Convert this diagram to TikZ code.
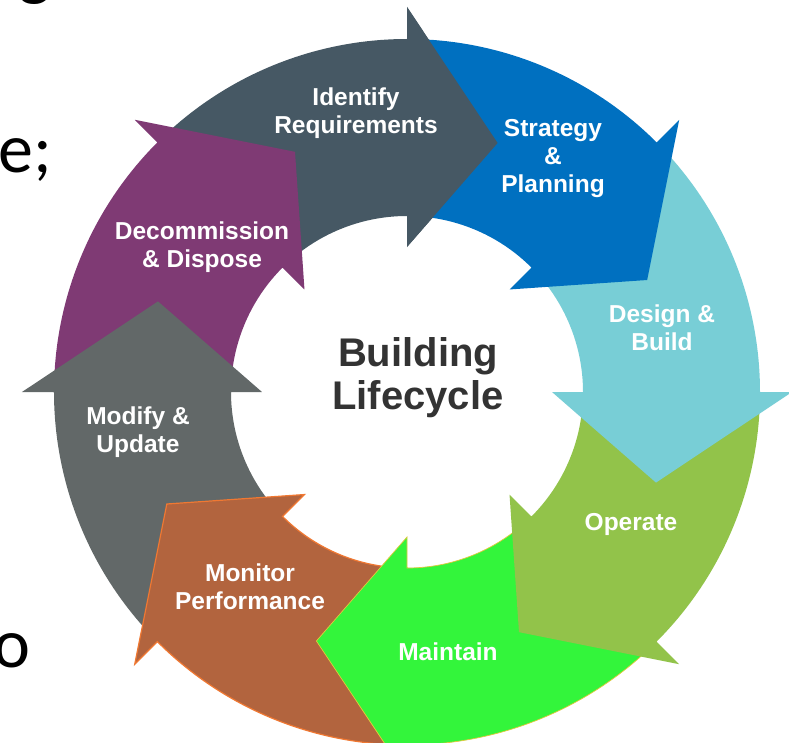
\documentclass[tikz,border=0pt]{standalone}
\usepackage{fontspec}
\setmainfont{Liberation Sans}
\newfontfamily\slidefont{Carlito}
\usetikzlibrary{calc}

% ring geometry (pt): inner/outer radius of the band, barb radii, tip radius
\def\rin{176}
\def\rout{353}
\def\rbin{145}
\def\rbout{385}
\def\rtip{265}
\def\tipang{20}

\definecolor{cIdentify}{RGB}{70,88,100}
\definecolor{cStrategy}{RGB}{0,112,192}
\definecolor{cDesign}{RGB}{120,206,214}
\definecolor{cOperate}{RGB}{146,195,74}
\definecolor{cMaintain}{RGB}{51,245,59}
\definecolor{cMaintainEdge}{RGB}{226,200,60}
\definecolor{cMonitor}{RGB}{178,100,62}
\definecolor{cMonitorEdge}{RGB}{240,120,50}
\definecolor{cModify}{RGB}{98,104,104}
\definecolor{cDecom}{RGB}{127,58,116}
\definecolor{cTitle}{RGB}{51,51,51}

\tikzset{
  seglabel/.style={text=white, font=\fontsize{24.5}{28}\selectfont\bfseries, align=center, inner sep=0pt},
  titlelabel/.style={text=cTitle, font=\fontsize{40}{43}\selectfont\bfseries, align=center, inner sep=0pt},
  slidetext/.style={text=black, font=\fontsize{70}{80}\selectfont\slidefont, inner sep=0pt, anchor=base west},
}

% one curved arrow of the cycle: band from (#1+45) down to #1, arrowhead to #1-20
\newcommand{\cyclearrow}[2]{%
  \path[#2] ({#1+45}:\rout) arc[start angle={#1+45}, end angle={#1}, radius=\rout]
    -- ({#1}:\rbout) -- ({#1-\tipang}:\rtip) -- ({#1}:\rbin) -- ({#1}:\rin)
    arc[start angle={#1}, end angle={#1+45}, radius=\rin] -- cycle;}

\begin{document}
\begin{tikzpicture}[x=1pt,y=1pt]
  \useasboundingbox (-407,-350) rectangle (382,392);
  \clip (-407,-350) rectangle (382,392);
  \fill[white] (-407,-350) rectangle (382,392);

  % slide text cut off at the margins
  \node[slidetext] (fragg) at (-389,399.5) {g};
  \node[slidetext] (frage) at (-409,219) {e;};
  \node[slidetext] (frago) at (-414,-275) {o};

  % ring of arrows, each arrowhead lying over the tail of the next
  \cyclearrow{90}{fill=cIdentify}
  \cyclearrow{-225}{fill=cDecom}
  \cyclearrow{-180}{fill=cModify}
  \cyclearrow{-135}{fill=cMonitor, draw=cMonitorEdge, line width=1.2pt}
  \cyclearrow{-90}{fill=cMaintain, draw=cMaintainEdge, line width=0.7pt}
  \cyclearrow{-45}{fill=cOperate}
  \cyclearrow{0}{fill=cDesign}
  \cyclearrow{45}{fill=cStrategy}
  % arrowhead of the first arrow closes the loop over the blue tail
  \fill[cIdentify] (90:\rbout) -- ({90-\tipang}:\rtip) -- (90:\rbin) -- cycle;

  % labels
  \node[seglabel] (identify) at (-51,279) {Identify\\Requirements};
  \node[seglabel] (strategy) at (146,233.5) {Strategy\\\&\\Planning};
  \node[seglabel] (design) at (255,64.5) {Design \&\\Build};
  \node[seglabel] (operate) at (224,-132.5) {Operate};
  \node[seglabel] (maintain) at (41,-259.5) {Maintain};
  \node[seglabel] (monitor) at (-157,-195) {Monitor\\Performance};
  \node[seglabel] (modify) at (-269,-40) {Modify \&\\Update};
  \node[seglabel] (decom) at (-205,144.5) {Decommission\\\& Dispose};

  \node[titlelabel] (title) at (11,14.5) {Building\\Lifecycle};
\end{tikzpicture}
\end{document}
